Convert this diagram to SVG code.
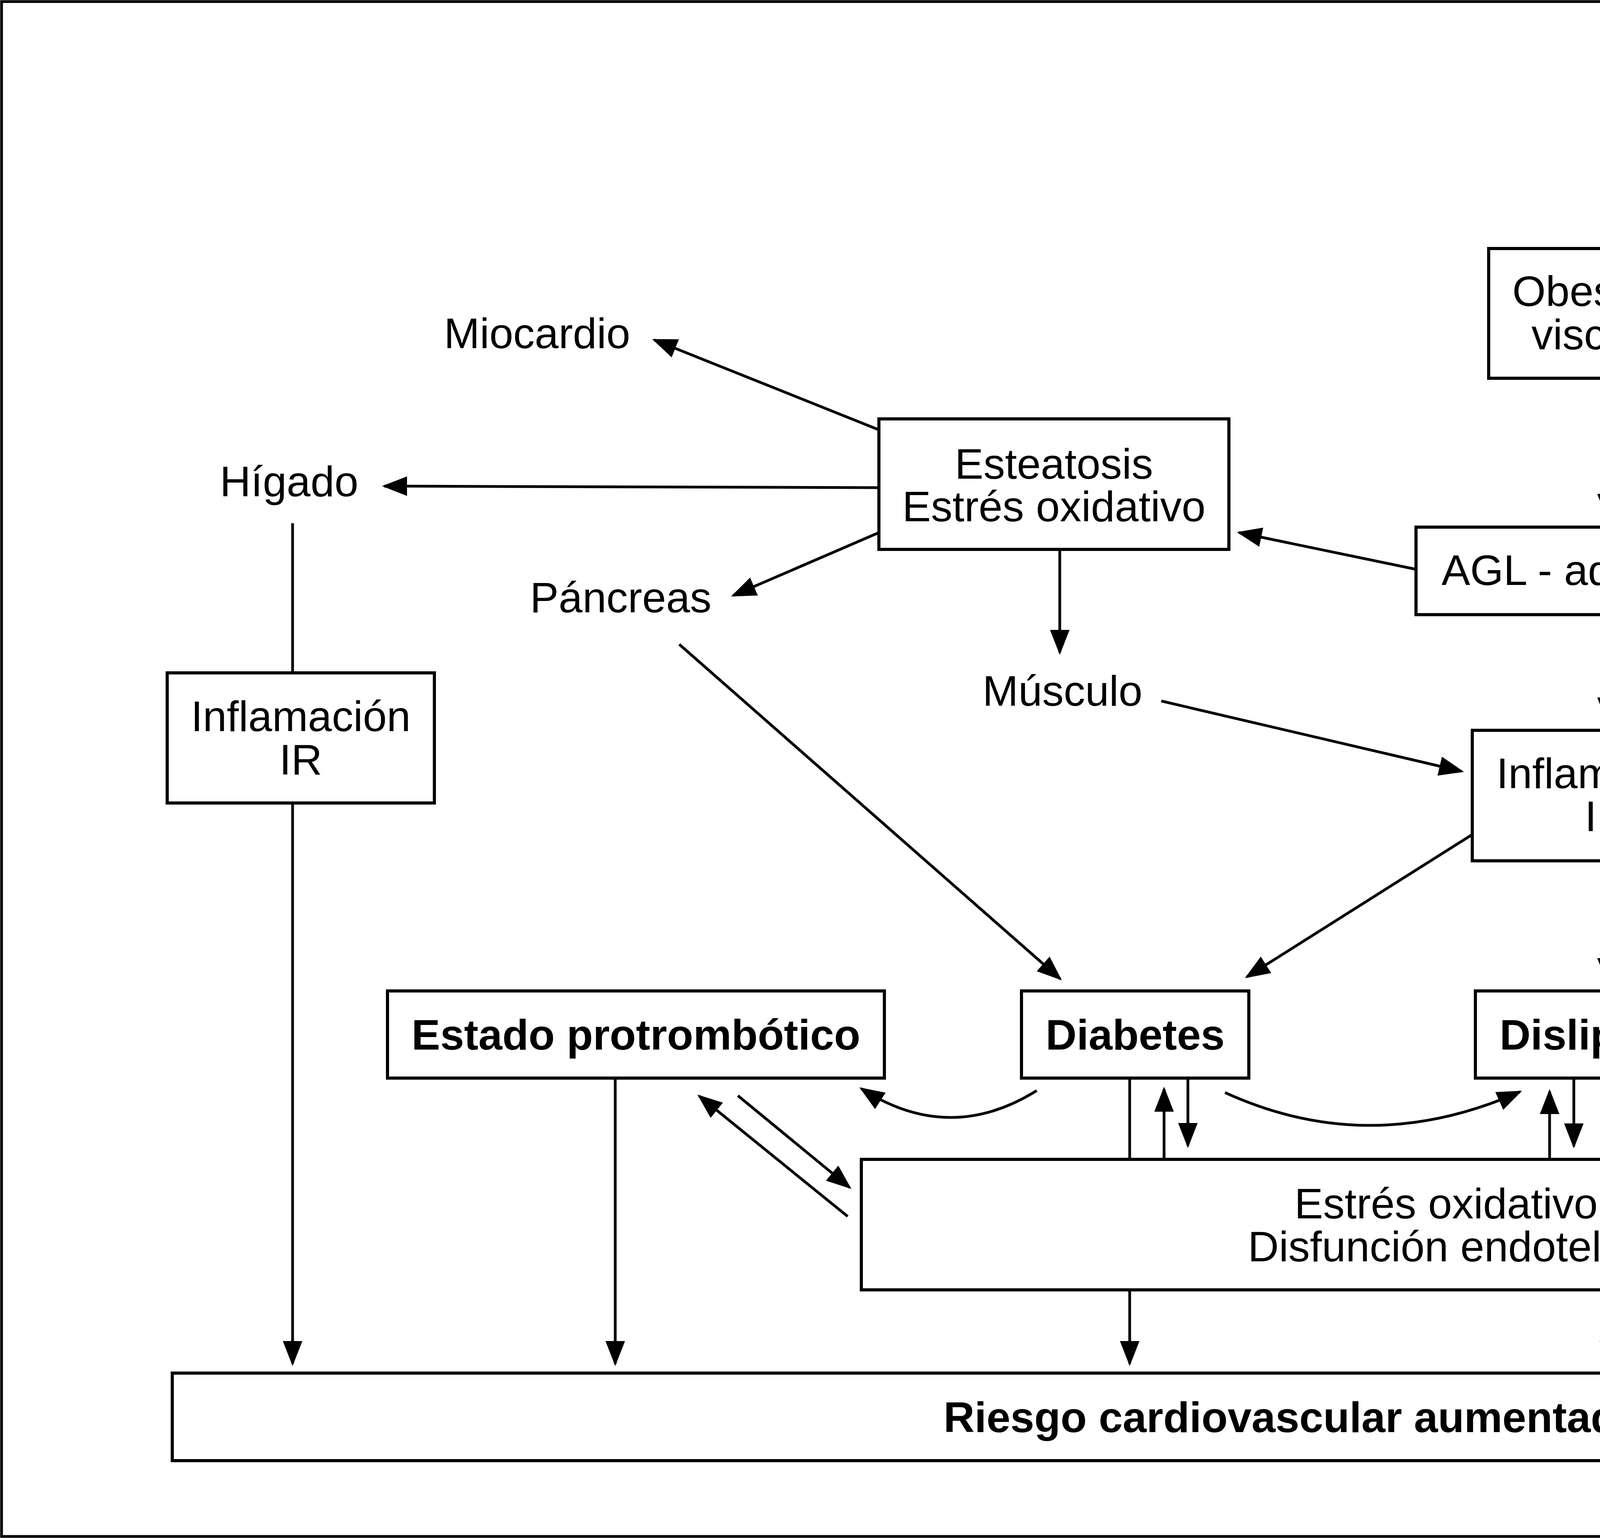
<svg xmlns="http://www.w3.org/2000/svg" width="6616" height="3936" viewBox="0 0 6616 3936">
<style>
  .box { fill: #ffffff; stroke: #000000; stroke-width: 8; }
  .t { font-family: "Liberation Sans", Arial, Helvetica, sans-serif; font-size: 110px; fill: #000000; text-anchor: middle; }
  .ts { font-family: "Liberation Sans", Arial, Helvetica, sans-serif; font-size: 110px; fill: #000000; text-anchor: start; }
  .b { font-weight: bold; }
  .c { fill: none; stroke: #000000; stroke-width: 7; }
  .a { marker-end: url(#ah); }
</style>
<defs>
  <marker id="ah" markerUnits="userSpaceOnUse" markerWidth="64" markerHeight="50" refX="58" refY="25" orient="auto">
    <path d="M0,0 L64,25 L0,50 z" fill="#000000"/>
  </marker>
</defs>
<rect x="0" y="0" width="6616" height="3936" fill="#ffffff"/>
<rect x="4" y="4" width="6608" height="3928" fill="none" stroke="#000000" stroke-width="7"/>

<g id="connectors">
  <line class="c a" x1="4404" y1="755" x2="5196" y2="400"/>
  <line class="c a" x1="4404" y1="853" x2="5198" y2="1064"/>
  <line class="c a" x1="4114" y1="968" x2="4114" y2="1322"/>
  <line class="c a" x1="4594" y1="1456" x2="5188" y2="1122"/>
  <line class="c a" x1="4594" y1="1496" x2="5562" y2="1507"/>
  <line class="c a" x1="3625" y1="1457" x2="3172" y2="1363"/>
  <line class="c a" x1="4114" y1="1573" x2="4114" y2="1843"/>
  <line class="c a" x1="5529" y1="1212" x2="5765" y2="1420"/>
  <line class="c a" x1="4458" y1="2020" x2="5585" y2="1564"/>
  <line class="c a" x1="5753" y1="1631" x2="5590" y2="1818"/>
  <line class="c a" x1="5786" y1="1629" x2="5646" y2="2498"/>
  <line class="c a" x1="5443" y1="1965" x2="5443" y2="2500"/>
  <line class="c a" x1="5638" y1="1562" x2="5638" y2="1427"/>
  <line class="c a" x1="5285" y1="1914" x2="5285" y2="1781"/>
  <line class="c a" x1="2250" y1="1100" x2="1675" y2="870"/>
  <line class="c a" x1="2250" y1="1248" x2="984" y2="1244"/>
  <line class="c a" x1="2250" y1="1363" x2="1877" y2="1524"/>
  <line class="c a" x1="2713" y1="1406" x2="2713" y2="1670"/>
  <line class="c a" x1="2973" y1="1794" x2="3742" y2="1974"/>
  <line class="c a" x1="1739" y1="1649" x2="2714" y2="2505"/>
  <line class="c a" x1="3767" y1="2137" x2="3192" y2="2500"/>
  <line class="c a" x1="4114" y1="2203" x2="4114" y2="2510"/>
  <line class="c a" x1="4458" y1="2092" x2="5018" y2="2503"/>
  <line class="c" x1="749" y1="1339" x2="749" y2="1722"/>
  <line class="c a" x1="749" y1="2055" x2="749" y2="3490"/>
  <line class="c a" x1="1575" y1="2759" x2="1575" y2="3490"/>
  <line class="c a" x1="6026" y1="636" x2="6026" y2="3490"/>
  <line class="c a" x1="2892" y1="3301" x2="2892" y2="3490"/>
  <line class="c a" x1="4120" y1="3301" x2="4120" y2="3490"/>
  <line class="c a" x1="5146" y1="3301" x2="5146" y2="3490"/>
  <line class="c" x1="2892" y1="2759" x2="2892" y2="2967"/>
  <line class="c a" x1="2980" y1="2967" x2="2980" y2="2787"/>
  <line class="c a" x1="3041" y1="2759" x2="3041" y2="2932"/>
  <line class="c a" x1="3967" y1="2967" x2="3967" y2="2793"/>
  <line class="c a" x1="4029" y1="2759" x2="4029" y2="2933"/>
  <line class="c" x1="4120" y1="2759" x2="4120" y2="2967"/>
  <line class="c a" x1="5016" y1="2967" x2="5016" y2="2788"/>
  <line class="c a" x1="5076" y1="2760" x2="5076" y2="2934"/>
  <line class="c" x1="5146" y1="2760" x2="5146" y2="2967"/>
  <line class="c a" x1="1889" y1="2804" x2="2175" y2="3039"/>
  <line class="c a" x1="2170" y1="3113" x2="1790" y2="2805"/>
  <path class="c a" d="M2654,2791 Q2430,2931 2205,2786"/>
  <path class="c a" d="M3136,2796 Q3506,2965 3891,2794"/>
</g>

<g id="hipercortisolismo">
  <rect class="box" x="5196" y="190" width="1087" height="446"/>
  <text class="t" x="5740" y="340">Hipercortisolismo</text>
  <text class="t" x="5740" y="450">Hipogonadismo</text>
  <text class="t" x="5740" y="561">Hiperandrogenismo</text>
</g>
<g id="obesidad">
  <rect class="box" x="3811" y="636" width="592" height="332"/>
  <text class="t" x="4107" y="783">Obesidad</text>
  <text class="t" x="4107" y="894">visceral</text>
</g>
<g id="saos"><text class="t" x="5416" y="1137">SAOS</text></g>
<g id="sns"><text class="ts" x="5692" y="1564">SNS</text></g>
<g id="eraa"><text class="ts" x="5330" y="1916">eRAA</text></g>
<g id="agl">
  <rect class="box" x="3625" y="1349" width="969" height="224"/>
  <text class="t" x="4110" y="1497">AGL - adipocinas</text>
</g>
<g id="esteatosis">
  <rect class="box" x="2250" y="1072" width="896" height="334"/>
  <text class="t" x="2698" y="1225">Esteatosis</text>
  <text class="t" x="2698" y="1334">Estrés oxidativo</text>
</g>
<g id="miocardio"><text class="t" x="1375" y="891">Miocardio</text></g>
<g id="higado"><text class="t" x="740" y="1270">Hígado</text></g>
<g id="pancreas"><text class="t" x="1589" y="1567">Páncreas</text></g>
<g id="musculo"><text class="t" x="2720" y="1806">Músculo</text></g>
<g id="inflamacion-ir">
  <rect class="box" x="3769" y="1869" width="687" height="334"/>
  <text class="t" x="4112" y="2017">Inflamación</text>
  <text class="t" x="4112" y="2127">IR</text>
</g>
<g id="inflamacion-ir-higado">
  <rect class="box" x="428" y="1722" width="684" height="333"/>
  <text class="t" x="770" y="1871">Inflamación</text>
  <text class="t" x="770" y="1982">IR</text>
</g>
<g id="estado-protrombotico">
  <rect class="box" x="992" y="2536" width="1272" height="223"/>
  <text class="t b" x="1628" y="2686">Estado protrombótico</text>
</g>
<g id="diabetes">
  <rect class="box" x="2615" y="2536" width="582" height="223"/>
  <text class="t b" x="2906" y="2686">Diabetes</text>
</g>
<g id="dislipemia">
  <rect class="box" x="3777" y="2536" width="675" height="223"/>
  <text class="t b" x="4114" y="2686">Dislipemia</text>
</g>
<g id="hipertension">
  <rect class="box" x="4970" y="2536" width="802" height="224"/>
  <text class="t b" x="5371" y="2686">Hipertensión</text>
</g>
<g id="estres-oxidativo">
  <rect class="box" x="2205" y="2967" width="2995" height="334"/>
  <text class="t" x="3702" y="3118">Estrés oxidativo</text>
  <text class="t" x="3702" y="3228">Disfunción endotelial</text>
</g>
<g id="riesgo">
  <rect class="box" x="441" y="3514" width="5740" height="224"/>
  <text class="t b" x="3311" y="3665">Riesgo cardiovascular aumentado</text>
</g>
</svg>
